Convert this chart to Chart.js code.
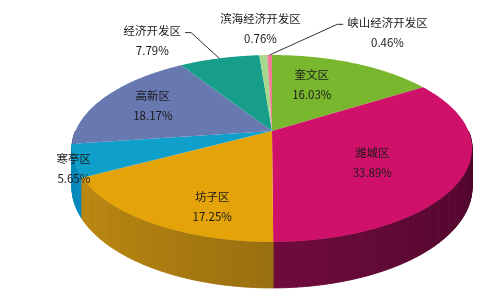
<!DOCTYPE html>
<html>
<head>
<meta charset="utf-8">
<script src="https://cdn.jsdelivr.net/npm/chart.js@4.4.1/dist/chart.umd.min.js"></script>
<style>
  html, body { margin: 0; padding: 0; background: #fff; }
  #wrap { width: 500px; height: 305px; position: relative; }
</style>
</head>
<body>
<div id="wrap"><canvas id="pie"></canvas></div>
<script>
// Data
const districts = ['奎文区', '潍城区', '坊子区', '寒亭区', '高新区', '经济开发区', '滨海经济开发区', '峡山经济开发区'];
const shares = [16.03, 33.89, 17.25, 5.65, 18.17, 7.79, 0.76, 0.46];

// Styles
const topColors = ['#79b82e', '#cf1169', '#e4a409', '#0e9fcb', '#6878b0', '#179e8b', '#a6d98b', '#f27b9a'];
const sideColors = ['#4e7a1c', '#700c3e', '#9a7010', '#08709a', '#46517e', '#0e6e60', '#6e9a5a', '#a84e66'];
// label nudges relative to the slice anchor (dx, dy), and which labels get a leader line
const labelNudge = [[-12, -3], [-9, 4], [7, 24], [-82, 20], [-17, -4], [-86, -44], [-6, -54], [117, -50]];
const leaderSide = [null, null, null, null, null, 'right', null, 'left'];

const TILT = 0.459;     // vertical squash of the pie top
const PERSP = 0.187;    // how much nearer points are magnified
const DEPTH = 37.4;     // thickness of the pie before perspective

function shade(hex, f) {
    const n = parseInt(hex.slice(1), 16);
    const c = [(n >> 16) & 255, (n >> 8) & 255, n & 255].map(v => Math.max(0, Math.min(255, Math.round(v * f))));
    return `rgb(${c[0]},${c[1]},${c[2]})`;
}

// project a point of the pie (canvas angle, fraction of radius, drop below the top)
function project(arc, angle, frac, drop) {
    const u = Math.cos(angle) * frac;
    const v = Math.sin(angle) * frac;
    const w = 1 / (1 - PERSP * v);
    return [arc.x + arc.outerRadius * u * w, arc.y + arc.outerRadius * TILT * v * w + drop * w];
}

const STEP = Math.PI / 360;

const pie3d = {
    id: 'pie3d',
    beforeDatasetsDraw(chart) {
        const ctx = chart.ctx;
        const arcs = chart.getDatasetMeta(0).data;

        // front wall in thin pieces, painted back to front
        const pieces = [];
        arcs.forEach((arc, i) => {
            const a1 = Math.max(arc.startAngle, 0);
            const a2 = Math.min(arc.endAngle, Math.PI);
            for (let a = a1; a < a2; a += STEP) {
                pieces.push({ arc, i, a, b: Math.min(a + STEP * 1.5, a2) });
            }
        });
        pieces.sort((p, q) => Math.sin(p.a) - Math.sin(q.a));
        pieces.forEach(p => {
            const t1 = project(p.arc, p.a, 1, 0);
            const t2 = project(p.arc, p.b, 1, 0);
            const b2 = project(p.arc, p.b, 1, DEPTH);
            const b1 = project(p.arc, p.a, 1, DEPTH);
            const col = shade(sideColors[p.i], 1 - 0.25 * Math.cos((p.a + p.b) / 2));
            ctx.beginPath();
            ctx.moveTo(t1[0], t1[1]);
            ctx.lineTo(t2[0], t2[1]);
            ctx.lineTo(b2[0], b2[1]);
            ctx.lineTo(b1[0], b1[1]);
            ctx.closePath();
            ctx.fillStyle = col;
            ctx.strokeStyle = col;
            ctx.lineWidth = 0.6;
            ctx.fill();
            ctx.stroke();
        });

        // top face, each slice from its Chart.js arc angles
        arcs.forEach((arc, i) => {
            ctx.beginPath();
            ctx.moveTo(arc.x, arc.y);
            for (let a = arc.startAngle; a < arc.endAngle; a += STEP) {
                const pt = project(arc, a, 1, 0);
                ctx.lineTo(pt[0], pt[1]);
            }
            const end = project(arc, arc.endAngle, 1, 0);
            ctx.lineTo(end[0], end[1]);
            ctx.closePath();
            ctx.fillStyle = arc.options.backgroundColor;
            ctx.fill();
        });
        return false;
    },
    afterDraw(chart) {
        const ctx = chart.ctx;
        const arcs = chart.getDatasetMeta(0).data;

        ctx.save();
        ctx.font = '11.5px "Noto Sans CJK SC", "Noto Sans", sans-serif';
        ctx.fillStyle = '#1a1a1a';
        ctx.textAlign = 'center';
        ctx.textBaseline = 'middle';

        arcs.forEach((arc, i) => {
            const mid = (arc.startAngle + arc.endAngle) / 2;
            const anchor = project(arc, mid, 0.6, 0);
            const lx = anchor[0] + labelNudge[i][0];
            const ly = anchor[1] + labelNudge[i][1];
            ctx.fillText(districts[i], lx, ly - 10);
            ctx.fillText(shares[i].toFixed(2) + '%', lx, ly + 10);

            if (leaderSide[i]) {
                const w = ctx.measureText(districts[i]).width;
                const edge = project(arc, mid, 1, 0);
                const sx = leaderSide[i] === 'right' ? lx + w / 2 + 4 : lx - w / 2 - 4;
                const kx = leaderSide[i] === 'right' ? sx + 6 : sx - 6;
                ctx.beginPath();
                ctx.moveTo(sx, ly - 8);
                ctx.lineTo(kx, ly - 8);
                ctx.lineTo(edge[0], edge[1]);
                ctx.strokeStyle = '#333';
                ctx.lineWidth = 1;
                ctx.stroke();
            }
        });
        ctx.restore();
    }
};

new Chart(document.getElementById('pie'), {
    type: 'pie',
    data: {
        labels: districts,
        datasets: [{
            data: shares,
            backgroundColor: topColors,
            borderWidth: 0
        }]
    },
    options: {
        responsive: true,
        maintainAspectRatio: false,
        animation: false,
        events: [],
        radius: 196.5,
        layout: { padding: { left: 44, bottom: 43 } },
        plugins: {
            legend: { display: false },
            tooltip: { enabled: false }
        }
    },
    plugins: [pie3d]
});
</script>
</body>
</html>
